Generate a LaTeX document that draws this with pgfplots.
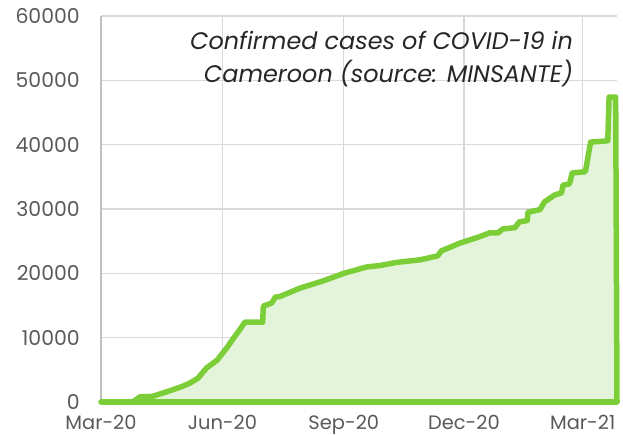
\documentclass[border=0pt]{standalone}
\usepackage{pgfplots}
\pgfplotsset{compat=1.18}
\usepackage{fontspec}
\setmainfont{Poppins}
\definecolor{linegreen}{RGB}{124,206,56}
\definecolor{fillgreen}{RGB}{228,244,218}
\definecolor{gridgray}{RGB}{217,217,217}
\definecolor{axisgray}{RGB}{191,191,191}
\definecolor{labelgray}{RGB}{89,89,89}
\begin{document}
\begin{tikzpicture}
\path[use as bounding box] (-101bp,-33bp) rectangle (522bp,402bp);
\begin{axis}[
  at={(0,0)}, anchor=south west,
  scale only axis, width=516bp, height=386bp,
  xmin=0, xmax=391, ymin=0, ymax=60000,
  xtick={0,92,184,275,365},
  xticklabels={Mar-20,Jun-20,Sep-20,Dec-20,Mar-21},
  ytick={0,10000,20000,30000,40000,50000,60000},
  scaled y ticks=false,
  /pgf/number format/1000 sep={},
  /pgf/number format/assume math mode=true,
  grid=major,
  major grid style={gridgray, line width=1.2bp},
  axis lines*=left,
  axis line style={axisgray, line width=1.2bp},
  major tick length=0pt,
  tick style={draw=none},
  tick label style={font=\fontsize{20.5}{24}\selectfont, text=labelgray},
  yticklabel style={anchor=east, inner sep=0pt, xshift=-21bp},
  xticklabel style={anchor=north, inner sep=0pt, yshift=-13bp, font=\fontsize{19.5}{22}\selectfont},
  clip=false,
]
\addplot[draw=linegreen, line width=5.5bp, fill=fillgreen, line join=round] coordinates {
(0,0) (24,0) (29.5,800) (39.4,900) (50,1600) (60,2300) (67,2900) (73.5,3700)
(80,5300) (88,6500) (96,8600) (100,9800) (105,11200) (109,12400) (122.5,12400)
(123,14900) (129.5,15400) (132,16300) (135.6,16400) (150.8,17700) (168,18800)
(184,20000) (201.5,21000) (211,21200) (224,21700) (241.7,22100) (255,22700)
(258,23500) (272,24700) (287,25700) (294.7,26300) (300.8,26300) (304.5,26900)
(313.6,27100) (317,28000) (323,28200) (323.5,29500) (332.6,29900) (336,31100)
(344,32200) (349,32500) (350,33700) (355,33900) (357,35600) (367,35800)
(368,36900) (371,40400) (384,40600) (385,47400) (390,47400) (391,0)
} \closedcycle;
\node[anchor=north east, align=right, inner sep=0pt,
  font=\fontsize{24}{33}\selectfont\itshape, text=black!85]
  at (rel axis cs:0.915,0.962) {Confirmed cases of COVID-19 in\\Cameroon (source: MINSANTE)};
\end{axis}
\end{tikzpicture}
\end{document}
